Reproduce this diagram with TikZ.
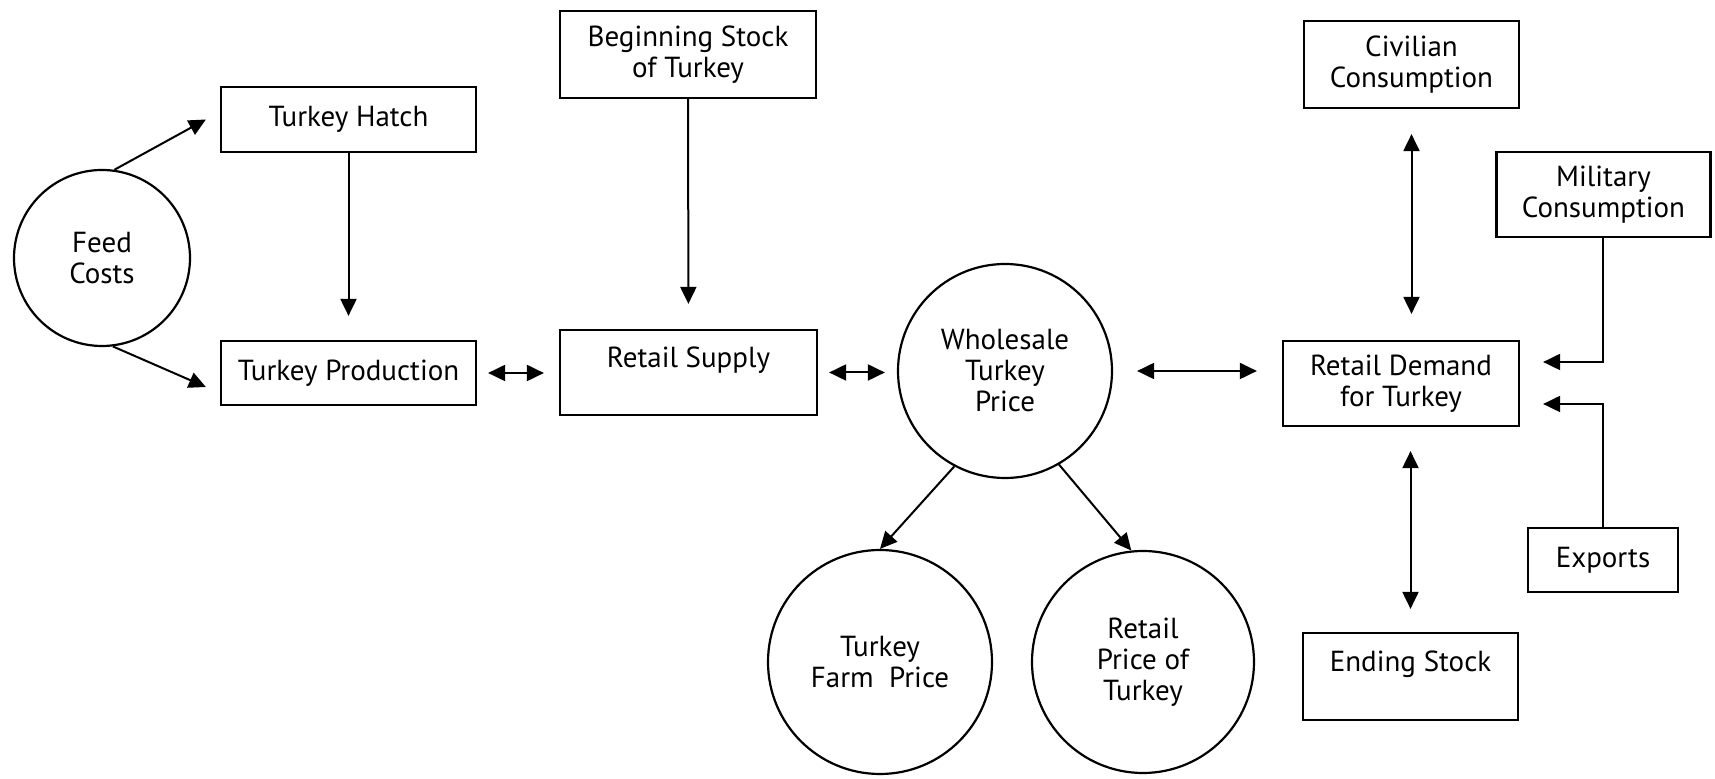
\documentclass[tikz,border=0pt]{standalone}
\usepackage{fontspec}
\setmainfont{PT Sans}
\usetikzlibrary{arrows.meta, positioning, shapes.geometric}

\begin{document}
\begin{tikzpicture}[x=0.5pt, y=-0.5pt, line width=1pt,
    >={Triangle[length=8.5pt, width=8pt]},
    lbl/.style={font=\fontsize{14.5}{15.5}\selectfont, align=center},
    box/.style={lbl, draw, line width=1.1pt, inner sep=0pt},
    bubble/.style={lbl, draw, circle, line width=1.1pt, inner sep=0pt}]
    \useasboundingbox (0,0) rectangle (1715,779);
    % Supply side
    \node[bubble, minimum size=88pt] (feed) at (102,258) {Feed\\Costs};
    \node[box, minimum width=127.5pt, minimum height=32.5pt] (hatch) at (348.5,119.5) {Turkey Hatch};
    \node[box, minimum width=127.5pt, minimum height=32pt] (prod) at (348.5,373) {Turkey Production};
    \node[box, minimum width=128pt, minimum height=43.5pt] (begin) at (688,54.5) {Beginning Stock\\of Turkey};
    \node[box, minimum width=128.5pt, minimum height=42.5pt] (supply) at (688.5,372.5) {Retail Supply\\~};
    % Prices
    \node[bubble, minimum size=107pt] (whole) at (1005,371) {Wholesale\\Turkey\\Price};
    \node[bubble, minimum size=112pt] (farm) at (880,662) {Turkey\\Farm\ \ Price};
    \node[bubble, minimum size=111pt] (rprice) at (1143,662) {Retail\\Price of\\Turkey};
    % Demand side
    \node[box, minimum width=107.5pt, minimum height=43.5pt] (civil) at (1411.5,64.5) {Civilian\\Consumption};
    \node[box, minimum width=107pt, minimum height=42.5pt] (military) at (1603.5,194.5) {Military\\Consumption};
    \node[box, minimum width=118pt, minimum height=42.5pt] (demand) at (1401,383.5) {Retail Demand\\for Turkey};
    \node[box, minimum width=75pt, minimum height=32pt] (exports) at (1603,560) {Exports};
    \node[box, minimum width=107.5pt, minimum height=43.5pt] (ending) at (1410.5,676.5) {Ending Stock\\~};
    % Arrows
    \draw[->] (feed.82) -- ([xshift=-7pt]hatch.west);
    \draw[->] (feed.-83) -- ([xshift=-7pt, yshift=-7pt]prod.west);
    \draw[->, shorten >=12pt] (hatch) -- (prod);
    \draw[->, shorten >=12.5pt] (begin) -- (supply);
    \draw[<->, shorten <=5.5pt, shorten >=7.5pt] (prod.east) -- (prod.east -| supply.west);
    \draw[<->, shorten <=5.5pt, shorten >=6pt] (supply.east) -- (supply.east -| whole.west);
    \draw[<->, shorten <=12pt, shorten >=12.5pt] (whole.east) -- (whole.east -| demand.west);
    \draw[->] (whole.-118) -- (farm.north);
    \draw[->] (whole.-60) -- (rprice.96);
    \draw[<->, shorten <=12.5pt, shorten >=13pt] (civil.south) -- (civil.south |- demand.north);
    \draw[<->, shorten <=12pt, shorten >=11.5pt] (ending.north |- demand.south) -- (ending.north);
    \draw[->, shorten >=11.5pt] ([xshift=-0.5pt]military.south) |- ([yshift=10.75pt]demand.east);
    \draw[->, shorten >=11.5pt] (exports.north) |- ([yshift=-10.25pt]demand.east);
\end{tikzpicture}
\end{document}
